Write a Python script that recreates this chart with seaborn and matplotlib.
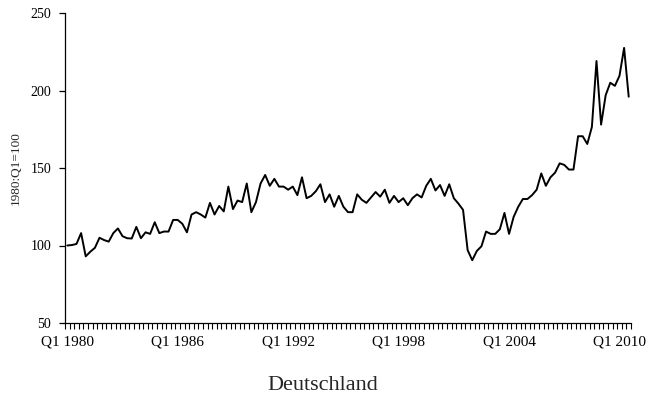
import numpy as np
import pandas as pd
import matplotlib
matplotlib.use("Agg")
import matplotlib.pyplot as plt
import seaborn as sns
from matplotlib.ticker import FixedLocator

values = [
    100, 100.3, 101, 108, 93, 96, 98.5, 105, 103.5, 102.5,
    108, 111, 106, 104.7, 104.5, 112, 104.7, 108.5, 107.5, 115,
    108, 109, 109, 116.5, 116.5, 114, 108.5, 120, 121.5, 120,
    118, 127.5, 120, 125.5, 122, 138, 123.5, 129, 128, 140,
    121.5, 128, 140, 145.5, 138.5, 143, 138, 138, 136, 138,
    132.5, 144, 130.5, 132, 135, 139.5, 128, 133, 125, 132,
    125, 121.5, 121.5, 133, 129.5, 127.5, 131, 134.5, 131.5, 136,
    127.5, 132, 128, 130.5, 126, 130.5, 133, 131, 138.5, 143,
    135.5, 139, 132, 139.5, 130.5, 127, 123, 97, 90.5, 96.5,
    99.5, 109, 107.5, 107.5, 110.5, 121, 107.5, 118.5, 125, 130,
    130, 132.5, 136, 146.5, 138.5, 144, 147, 153, 152, 149,
    149, 170.5, 170.5, 165.5, 176.5, 219, 178, 197, 205, 203,
    209.5, 227.5, 196,
]
start_year = 1980
quarters = [f"Q{i % 4 + 1} {start_year + i // 4}" for i in range(len(values))]
label_years = [1980, 1986, 1992, 1998, 2004, 2010]
y_ticks = [50, 100, 150, 200, 250]

df = pd.DataFrame({"idx": np.arange(len(values)), "quarter": quarters, "value": values})

sns.set_style("white")
plt.rcParams["font.family"] = ["Liberation Serif", "DejaVu Serif"]

fig = plt.figure(figsize=(6.46, 4.03), dpi=100)
ax = fig.add_axes([65 / 646, 1 - 323 / 403, (631 - 65) / 646, (323 - 13) / 403])

sns.lineplot(data=df, x="idx", y="value", ax=ax, color="black", linewidth=1.4)

ax.set_xlim(-0.5, len(values) - 0.5)
ax.set_ylim(50, 250)
ax.set_yticks(y_ticks)
ax.set_yticklabels([str(v) for v in y_ticks], fontsize=10)

major_pos = [(y - start_year) * 4 for y in label_years]
ax.set_xticks(major_pos)
ax.set_xticklabels([f"Q1 {y}" for y in label_years], fontsize=11)
ax.xaxis.set_minor_locator(FixedLocator(np.arange(-0.5, len(values), 1.0)))
ax.yaxis.set_ticks_position("left")
ax.tick_params(axis="x", which="both", bottom=True, top=False)
ax.tick_params(axis="x", which="major", length=0, pad=9)
ax.tick_params(axis="x", which="minor", length=4, width=0.8, direction="out", color="black")
ax.tick_params(axis="y", which="major", left=True, length=4, width=0.9, direction="out", color="black", pad=6)
ax.tick_params(axis="both", labelcolor="black")

ax.set_xlabel("")
ax.set_ylabel("1980:Q1=100", fontsize=9.5, labelpad=6)

for s in ["top", "right"]:
    ax.spines[s].set_visible(False)
for s in ["left", "bottom"]:
    ax.spines[s].set_color("black")
    ax.spines[s].set_linewidth(0.9)

fig.text(0.5, 1 - 386 / 403, "Deutschland", ha="center", va="center", fontsize=16)

fig.savefig("out.png", dpi=100, facecolor="white")
